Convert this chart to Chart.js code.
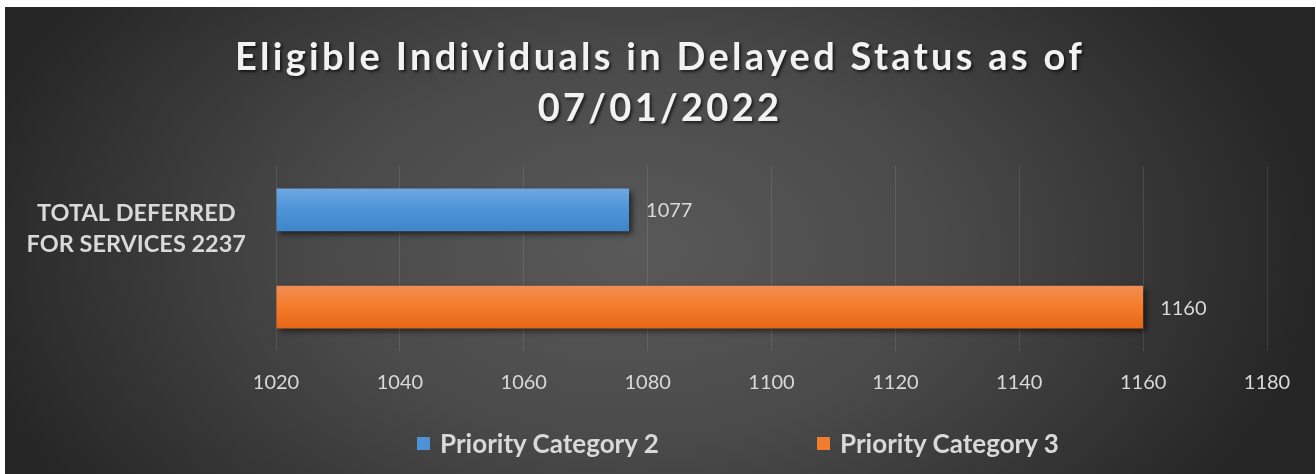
<!DOCTYPE html>
<html>
<head>
<meta charset="utf-8">
<script src="https://cdn.jsdelivr.net/npm/chart.js@4"></script>
<style>
  html, body { margin: 0; padding: 0; background: #fff; }
  #frame {
    position: absolute; left: 5px; top: 7px; width: 1310px; height: 467px;
    background: radial-gradient(ellipse 680px 430px at 48% 52%, #595959 0%, #4a4a4a 45%, #262626 100%);
    font-family: Lato, sans-serif;
  }
  #chart { position: absolute; left: 0; top: 0; }
  #title {
    position: absolute; left: 0; top: 23px; width: 100%;
    text-align: center; color: #f2f2f2; font-weight: bold;
    font-size: 38px; line-height: 51px; letter-spacing: 3.3px;
    text-shadow: 2px 2px 3px rgba(0,0,0,0.6);
  }
  .legend-item {
    position: absolute; top: 421px; height: 30px; display: flex; align-items: center;
    color: #d9d9d9; font-weight: bold; font-size: 26px;
  }
  .legend-item span.box { width: 13px; height: 13px; margin-right: 10px; }
</style>
</head>
<body>
<div id="frame">
  <canvas id="chart" width="1310" height="467"></canvas>
  <div id="title">Eligible Individuals in Delayed Status as of<br>07/01/2022</div>
  <div id="legend"></div>
</div>
<script>
document.addEventListener('DOMContentLoaded', () => {
    // --- Datos ---
    const categories = [['TOTAL DEFERRED', 'FOR SERVICES 2237']];
    const seriesNames = ['Priority Category 2', 'Priority Category 3'];
    const category2Values = [1077];
    const category3Values = [1160];
    const xTicks = [1020, 1040, 1060, 1080, 1100, 1120, 1140, 1160, 1180];

    const xMin = xTicks[0];
    const xMax = xTicks[xTicks.length - 1];
    const catPct = 1.05;
    const barPct = 0.44;

    const gradientStops = [
        ['#6ea8e2', '#4d93d8', '#3e85ca'],
        ['#f28d55', '#f47b28', '#e46716']
    ];
    const legendColors = ['#4e92d6', '#f27c2e'];

    // gradiente vertical para cada barra, calculado a partir de la escala y
    function barGradient(context) {
        const chart = context.chart;
        const yScale = chart.scales.y;
        if (!chart.chartArea || !yScale) return legendColors[context.datasetIndex];
        const band = yScale.height / categories.length;
        const slot = band * catPct / 2;
        const center = yScale.getPixelForValue(context.dataIndex) + (context.datasetIndex - 0.5) * slot;
        const half = slot * barPct / 2;
        const g = chart.ctx.createLinearGradient(0, center - half, 0, center + half);
        const stops = gradientStops[context.datasetIndex];
        g.addColorStop(0, stops[0]);
        g.addColorStop(0.5, stops[1]);
        g.addColorStop(1, stops[2]);
        return g;
    }

    // sombra de las barras
    const barShadow = {
        id: 'barShadow',
        beforeDatasetsDraw(chart) {
            const ctx = chart.ctx;
            ctx.save();
            ctx.shadowColor = 'rgba(0, 0, 0, 0.6)';
            ctx.shadowBlur = 6;
            ctx.shadowOffsetX = 3;
            ctx.shadowOffsetY = 3;
        },
        afterDatasetsDraw(chart) {
            chart.ctx.restore();
        }
    };

    // etiquetas de valor al final de cada barra
    const valueLabels = {
        id: 'valueLabels',
        afterDraw(chart) {
            const ctx = chart.ctx;
            ctx.save();
            ctx.font = '20px Lato';
            ctx.fillStyle = '#d9d9d9';
            ctx.textBaseline = 'middle';
            ctx.textAlign = 'left';
            chart.data.datasets.forEach((ds, i) => {
                chart.getDatasetMeta(i).data.forEach((el, j) => {
                    ctx.fillText(String(ds.data[j]), el.x + 17, el.y + 1);
                });
            });
            ctx.restore();
        }
    };

    Chart.defaults.font.family = 'Lato';
    Chart.defaults.color = '#d9d9d9';

    new Chart(document.getElementById('chart'), {
        type: 'bar',
        data: {
            labels: categories,
            datasets: [
                { label: seriesNames[0], data: category2Values, backgroundColor: barGradient, base: xMin },
                { label: seriesNames[1], data: category3Values, backgroundColor: barGradient, base: xMin }
            ]
        },
        options: {
            indexAxis: 'y',
            responsive: false,
            animation: false,
            categoryPercentage: catPct,
            barPercentage: barPct,
            layout: { padding: { top: 159, bottom: 59, left: 0, right: 48 } },
            scales: {
                x: {
                    min: xMin, max: xMax,
                    afterBuildTicks: (scale) => { scale.ticks = xTicks.map(v => ({ value: v })); },
                    grid: { color: 'rgba(255, 255, 255, 0.1)', drawTicks: false },
                    border: { display: false },
                    ticks: {
                        padding: 20, font: { size: 20 }, color: '#d9d9d9',
                        callback: (v) => String(v)
                    }
                },
                y: {
                    grid: { display: false },
                    border: { display: false },
                    afterFit: (scale) => { scale.width = 271; },
                    ticks: {
                        crossAlign: 'center',
                        padding: 22,
                        labelOffset: -30,
                        color: '#d9d9d9',
                        font: { size: 23.5, weight: 'bold', lineHeight: 1.32 }
                    }
                }
            },
            plugins: {
                legend: { display: false },
                title: { display: false },
                tooltip: { enabled: false }
            }
        },
        plugins: [barShadow, valueLabels]
    });

    // leyenda
    const legend = document.getElementById('legend');
    const legendLeft = [412, 812];
    seriesNames.forEach((name, i) => {
        const item = document.createElement('div');
        item.className = 'legend-item';
        item.style.left = legendLeft[i] + 'px';
        item.innerHTML = `<span class="box" style="background:${legendColors[i]}"></span>${name}`;
        legend.appendChild(item);
    });
});
</script>
</body>
</html>
